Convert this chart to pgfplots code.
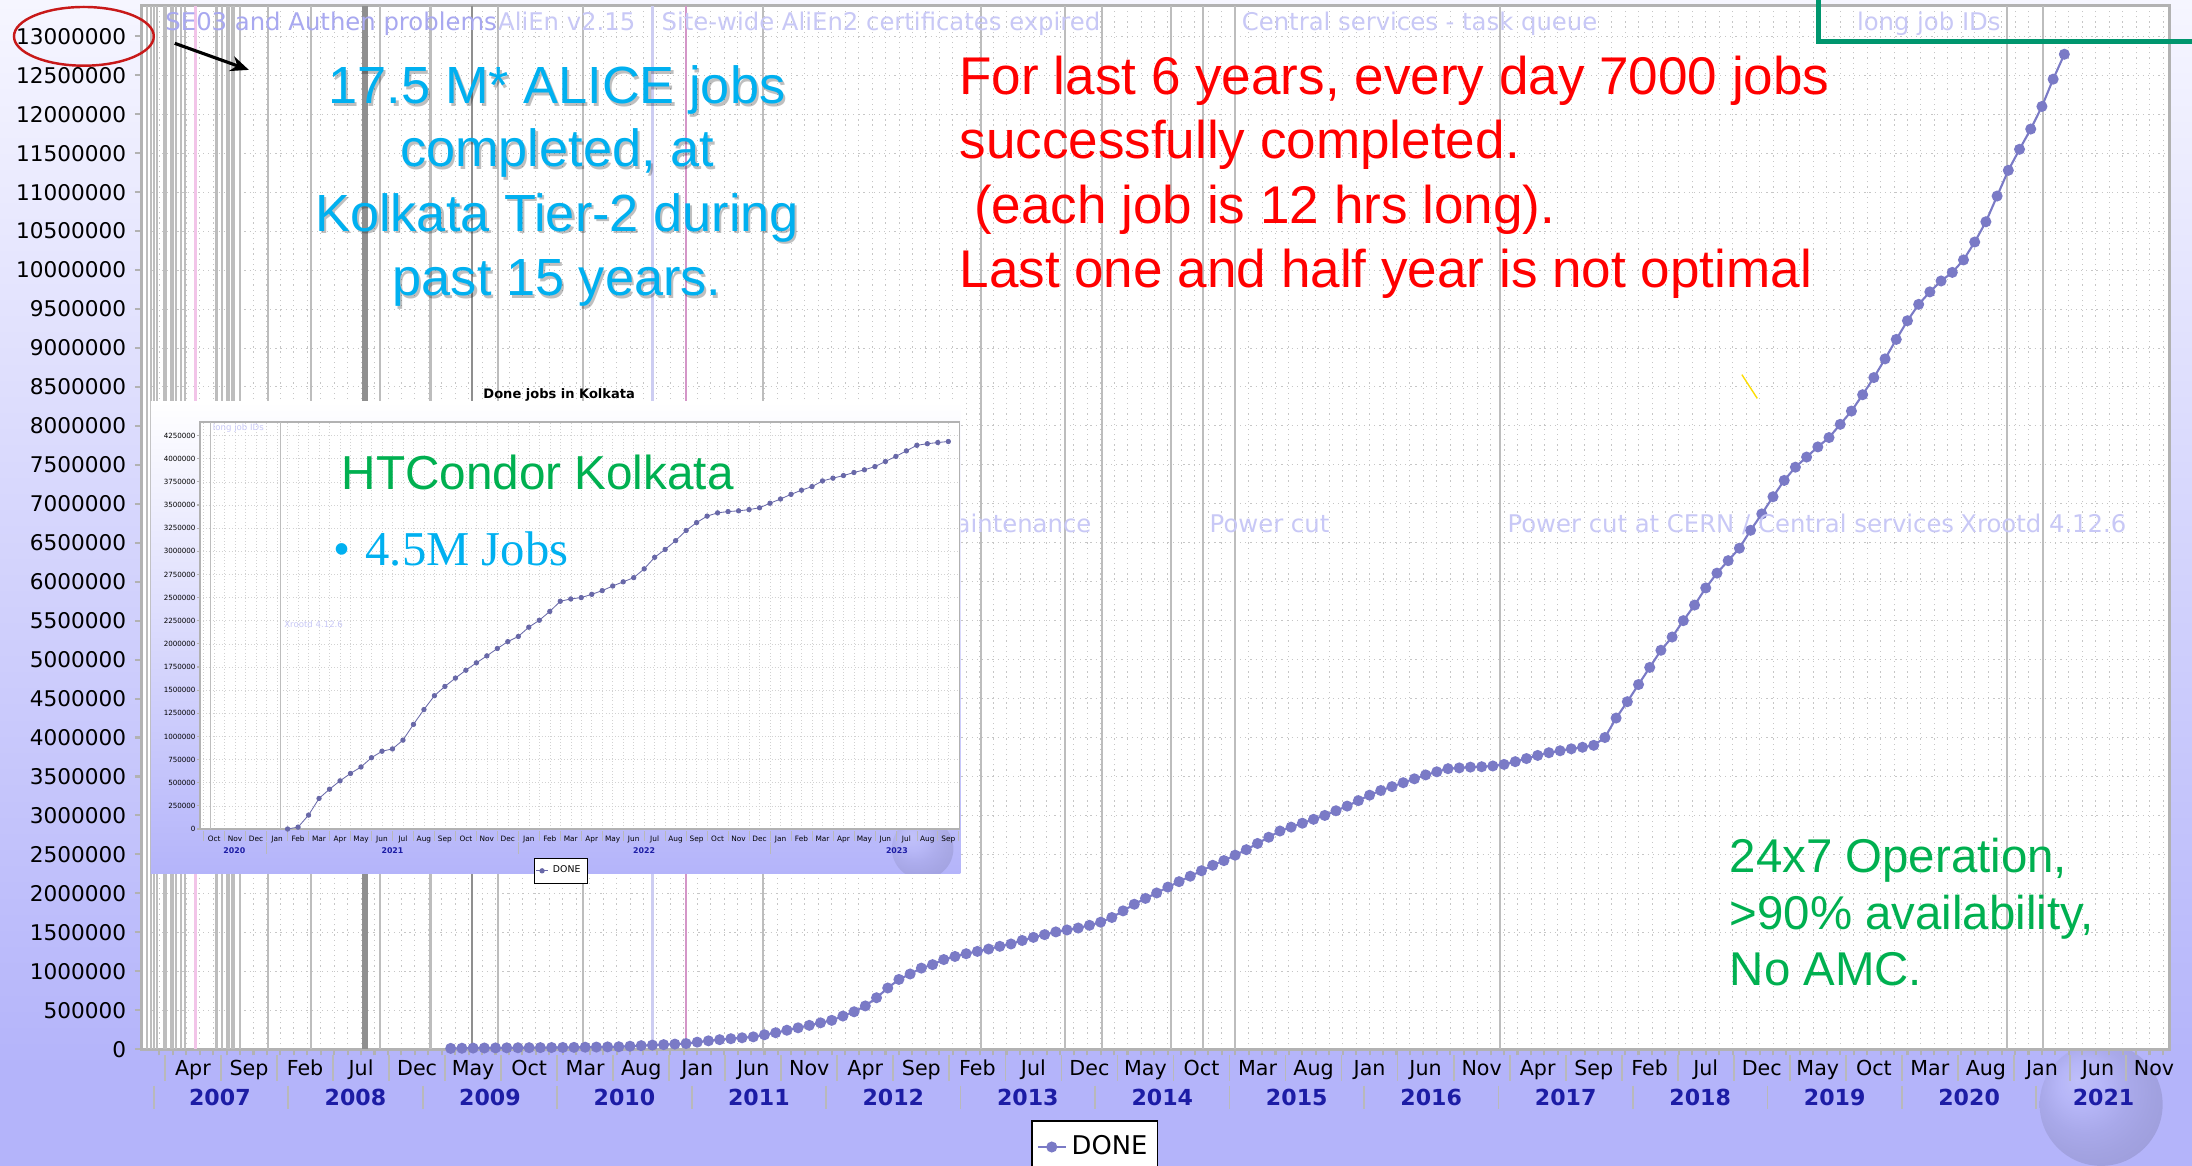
\documentclass[border=0pt]{standalone}
\usepackage{fontspec}
\setmainfont{DejaVu Sans}
\newfontfamily\arial{Liberation Sans}
\newfontfamily\tnr{Liberation Serif}
\usepackage{pgfplots}
\pgfplotsset{compat=1.18}
\usetikzlibrary{arrows.meta}

\definecolor{lav}{RGB}{180,180,250}
\definecolor{lavtop}{RGB}{246,246,255}
\definecolor{series}{RGB}{122,122,198}
\definecolor{yearblue}{RGB}{28,28,165}
\definecolor{faint}{RGB}{200,200,246}
\definecolor{faint2}{RGB}{168,168,240}
\definecolor{cyanT}{RGB}{0,176,240}
\definecolor{greenT}{RGB}{0,176,80}
\definecolor{rectgreen}{RGB}{0,150,110}
\definecolor{ellred}{RGB}{200,25,25}
\definecolor{annot}{gray}{0.74}
\definecolor{annotdark}{gray}{0.56}
\definecolor{annotpink}{RGB}{242,196,232}
\definecolor{annotlav}{RGB}{205,205,242}
\definecolor{annotpurple}{RGB}{212,150,200}

\newcommand{\fs}[1]{\fontsize{#1pt}{#1pt}\selectfont}

\begin{document}
\begin{tikzpicture}[x=0.2mm,y=0.2mm]
\useasboundingbox (0,0) rectangle (1568,834);
\clip (0,0) rectangle (1568,834);
% page background
\shade[top color=lavtop, bottom color=lav] (0,70) rectangle (1568,834);
\fill[lav] (0,0) rectangle (1568,70.5);
\shade[ball color=lav!85!gray, opacity=0.18] (1503,44) circle (44);

% ---------------- main MonALISA chart ----------------
\begin{axis}[
  at={(20.2mm,16.7mm)}, anchor=south west,
  width=290.2mm, height=149.3mm, scale only axis,
  xmin=-1.62, xmax=179.4, ymin=0, ymax=13395000,
  clip=false,
  axis background/.style={fill=white},
  axis line style={draw=gray!60, line width=0.4mm},
  tick align=outside, xtick pos=lower, ytick pos=left,
  tick style={gray!60, line width=0.3mm},
  major tick length=0.9mm, minor tick length=0.9mm,
  major x tick style={draw=none},
  ytick distance=500000,
  scaled y ticks=false,
  /pgf/number format/assume math mode=true,
  yticklabel style={/pgf/number format/fixed, /pgf/number format/1000 sep={},
    font=\fs{8.8}, anchor=east},
  xtick={3,8,...,178},
  xticklabels={Apr,Sep,Feb,Jul,Dec,May,Oct,Mar,Aug,Jan,Jun,Nov,
               Apr,Sep,Feb,Jul,Dec,May,Oct,Mar,Aug,Jan,Jun,Nov,
               Apr,Sep,Feb,Jul,Dec,May,Oct,Mar,Aug,Jan,Jun,Nov},
  xticklabel style={font=\fs{8.4}, anchor=base, yshift=-2.9mm},
  extra x ticks={5.4,17.5,29.5,41.5,53.5,65.5,77.5,89.5,101.5,113.5,125.5,137.5,149.5,161.5,173.5},
  extra x tick labels={2007,2008,2009,2010,2011,2012,2013,2014,2015,2016,2017,2018,2019,2020,2021},
  extra x tick style={grid=none, xticklabel style={font=\bfseries\fs{9}, text=yearblue, yshift=-4.2mm}},
  minor xtick={0,1.2,...,178.8},
  ymajorgrids, xminorgrids,
  major grid style={gray!45, dash pattern=on 0.5pt off 1.6pt, line width=0.35pt},
  minor grid style={gray!45, dash pattern=on 0.5pt off 1.6pt, line width=0.35pt},
  legend style={at={(0.47,-0.068)}, anchor=north, draw=black, fill=white,
    line width=0.6pt, font=\fs{10.5}, inner xsep=2pt, inner ysep=4pt},
  legend image code/.code={\draw[mark repeat=2,mark phase=2,#1]
    plot coordinates {(0mm,0mm) (2mm,0mm) (4mm,0mm)};},
]
% annotation lines of the monitoring plot
\pgfplotsinvokeforeach{-1.1,-0.75,-0.5,-0.25,0.4,0.6,1.0,1.25,1.5,1.9,2.25,5.1,5.6,6.0,6.2,6.5,6.7,7.2,9.7,13.5,19.7,24.2,30.2,37.8,53.9,73.3,80.8,84.1,90.3,93.1,96.0,119.6,164.9,168.1}{
  \draw[annot, line width=0.3mm] (axis cs:#1,0) -- (axis cs:#1,13395000);}
\pgfplotsinvokeforeach{18.2,18.5,27.9}{
  \draw[annotdark, line width=0.35mm] (axis cs:#1,0) -- (axis cs:#1,13395000);}
\draw[annotpink, line width=0.4mm] (axis cs:3.2,0) -- (axis cs:3.2,13395000);
\draw[annotlav, line width=0.4mm] (axis cs:44,0) -- (axis cs:44,13395000);
\draw[annotpurple, line width=0.4mm] (axis cs:47,0) -- (axis cs:47,13395000);
% separators of the date labels
\pgfplotsinvokeforeach{0.5,5.5,...,175.5}{
  \draw[gray!55, line width=0.25mm] (axis cs:#1,-80800) -- (axis cs:#1,-404000);}
\pgfplotsinvokeforeach{-0.5,11.5,...,167.5}{
  \draw[gray!55, line width=0.25mm] (axis cs:#1,-467000) -- (axis cs:#1,-772000);}

\addplot[color=series, line width=0.3mm, mark=*, mark size=1.8pt,
  mark options={fill=series, draw=series}] coordinates {
(26,10000)(27,12000)(28,14000)(29,15000)(30,16000)(31,17000)(32,18000)(33,19000)
(34,20000)(35,21000)(36,22000)(37,23000)(38,25000)(39,27000)(40,29000)(41,31000)
(42,38000)(43,45000)(44,52000)(45,58000)(46,65000)(47,72000)(48,90000)(49,107000)
(50,122000)(51,134000)(52,146000)(53,158000)(54,185000)(55,211000)(56,243000)
(57,274000)(58,306000)(59,338000)(60,370000)(61,425000)(62,480000)(63,555000)
(64,660000)(65,785000)(66,895000)(67,965000)(68,1040000)(69,1085000)(70,1150000)
(71,1190000)(72,1225000)(73,1255000)(74,1285000)(75,1320000)(76,1350000)
(77,1395000)(78,1435000)(79,1470000)(80,1505000)(81,1530000)(82,1555000)
(83,1590000)(84,1630000)(85,1690000)(86,1775000)(87,1860000)(88,1935000)
(89,2005000)(90,2080000)(91,2150000)(92,2220000)(93,2290000)(94,2360000)
(95,2420000)(96,2490000)(97,2560000)(98,2640000)(99,2720000)(100,2800000)
(101,2850000)(102,2900000)(103,2950000)(104,3000000)(105,3060000)(106,3120000)
(107,3190000)(108,3260000)(109,3320000)(110,3370000)(111,3420000)(112,3470000)
(113,3520000)(114,3560000)(115,3600000)(116,3610000)(117,3620000)(118,3625000)
(119,3635000)(120,3655000)(121,3690000)(122,3730000)(123,3770000)(124,3805000)
(125,3830000)(126,3855000)(127,3875000)(128,3900000)(129,4000000)(130,4250000)
(131,4460000)(132,4680000)(133,4900000)(134,5120000)(135,5290000)(136,5500000)
(137,5700000)(138,5920000)(139,6110000)(140,6270000)(141,6430000)(142,6660000)
(143,6870000)(144,7090000)(145,7300000)(146,7470000)(147,7600000)(148,7730000)
(149,7850000)(150,8020000)(151,8190000)(152,8400000)(153,8620000)(154,8860000)
(155,9110000)(156,9350000)(157,9560000)(158,9720000)(159,9860000)(160,9970000)
(161,10130000)(162,10360000)(163,10620000)(164,10950000)(165,11280000)
(166,11550000)(167,11810000)(168,12100000)(169,12450000)(170,12770000)
};
\addlegendentry{DONE}
\end{axis}

% faded event annotations of the monitoring plot
\begin{scope}[every node/.style={inner sep=0pt, font=\fs{9.9}}]
\node[anchor=base west, text=faint2] at (118,812) {SE03 and Authen problems};
\node[anchor=base west, text=faint] at (356,812) {AliEn v2.15};
\node[anchor=base west, text=faint] at (473,812) {Site-wide AliEn2 certificates expired};
\node[anchor=base west, text=faint] at (888,812) {Central services - task queue};
\node[anchor=base west, text=faint] at (1328,812) {long job IDs};
\node[anchor=base east, text=faint] at (781,453) {Maintenance};
\node[anchor=base west, text=faint] at (865,453) {Power cut};
\node[anchor=base west, text=faint] at (1078,453) {Power cut at CERN / Central services};
\node[anchor=base west, text=faint] at (1402,453) {Xrootd 4.12.6};
\end{scope}

% slide annotations
\draw[ellred, line width=0.35mm] (60,808) ellipse [x radius=50, y radius=21];
\draw[-{Stealth[length=2.6mm,width=2.2mm]}, line width=0.45mm] (125,803) -- (178,784);
\draw[rectgreen, line width=0.7mm] (1301,845) -- (1301,804) -- (1580,804);
\draw[yellow!80!orange, line width=0.2mm] (1246,566) -- (1257,549);

\begin{scope}[every node/.style={inner sep=0pt, font=\arial\fs{21.3}}]
\foreach \t/\yy in {{17.5 M* ALICE jobs}/759.6, {completed, at}/714.6,
                    {Kolkata Tier-2 during}/668.6, {past 15 years.}/622.6}{
  \node[anchor=base, text=black, opacity=0.25] at (400,\yy-1.8) {\t};
  \node[anchor=base, text=cyanT] at (398.5,\yy) {\t};
}
\end{scope}
\begin{scope}[every node/.style={inner sep=0pt, anchor=base west, text=red, font=\arial\fs{21.6}}]
\node at (686,766.4) {For last 6 years, every day 7000 jobs};
\node at (686,720.4) {successfully completed.};
\node at (686,674.4) {\ (each job is 12 hrs long).};
\node at (686,628.4) {Last one and half year is not optimal};
\end{scope}
\begin{scope}[every node/.style={inner sep=0pt, anchor=base west, text=greenT, font=\arial\fs{19.3}}]
\node at (1237,210) {24x7 Operation,};
\node at (1237,169) {>90\% availability,};
\node at (1237,129) {No AMC.};
\end{scope}

% ---------------- inset: HTCondor chart ----------------
\shade[top color=white, bottom color=lav] (108,209) rectangle (687,547);
\begin{scope}
\clip (108,209) rectangle (687,547);
\shade[ball color=lav!85!gray, opacity=0.15] (660,227) circle (22);
\end{scope}
\begin{axis}[
  at={(28.6mm,48.2mm)}, anchor=south west,
  width=108.66mm, height=58.2mm, scale only axis,
  xmin=-0.68, xmax=35.53, ymin=0, ymax=4395000,
  clip=false,
  axis background/.style={fill=white},
  axis line style={draw=gray!60, line width=0.2mm},
  tick align=outside, xtick pos=lower, ytick pos=left,
  tick style={gray!60, line width=0.15mm},
  major tick length=0.35mm,
  major x tick style={draw=none},
  ytick distance=250000,
  scaled y ticks=false,
  /pgf/number format/assume math mode=true,
  yticklabel style={/pgf/number format/fixed, /pgf/number format/1000 sep={},
    font=\fs{2.9}, anchor=east, inner sep=0.6pt},
  xtick={0,...,35},
  xticklabels={Oct,Nov,Dec,Jan,Feb,Mar,Apr,May,Jun,Jul,Aug,Sep,
               Oct,Nov,Dec,Jan,Feb,Mar,Apr,May,Jun,Jul,Aug,Sep,
               Oct,Nov,Dec,Jan,Feb,Mar,Apr,May,Jun,Jul,Aug,Sep},
  xticklabel style={font=\fs{3}, anchor=base, yshift=-1.5mm},
  extra x ticks={0.96,8.5,20.5,32.55},
  extra x tick labels={2020,2021,2022,2023},
  extra x tick style={grid=none, xticklabel style={font=\bfseries\fs{3.2}, text=yearblue, yshift=-1.6mm}},
  minor xtick={-0.5,0,...,35.5},
  ymajorgrids, xminorgrids,
  major grid style={gray!35, dash pattern=on 0.3pt off 1pt, line width=0.2pt},
  minor grid style={gray!35, dash pattern=on 0.3pt off 1pt, line width=0.2pt},
  minor tick length=0pt,
  title={Done jobs in Kolkata},
  title style={at={(0.473,1)}, anchor=center, yshift=1.8mm, font=\bfseries\fs{5.3}},
  legend style={at={(0.475,-0.072)}, anchor=north, draw=black, fill=white,
    line width=0.3pt, font=\fs{3.8}, inner xsep=0.8pt, inner ysep=0.8pt},
  legend image code/.code={\draw[mark repeat=2,mark phase=2,#1]
    plot coordinates {(0mm,0mm) (0.8mm,0mm) (1.6mm,0mm)};},
]
\draw[annot, line width=0.15mm] (axis cs:-0.17,0) -- (axis cs:-0.17,4395000);
\draw[annot, line width=0.15mm] (axis cs:3.16,0) -- (axis cs:3.16,4395000);
\pgfplotsinvokeforeach{-0.5,0.5,...,35.5}{
  \draw[gray!55, line width=0.1mm] (axis cs:#1,-22700) -- (axis cs:#1,-128000);}
\pgfplotsinvokeforeach{2.5,14.5,26.5}{
  \draw[gray!55, line width=0.1mm] (axis cs:#1,-136000) -- (axis cs:#1,-272000);}
\addplot[color=series!85!black, line width=0.12mm, mark=*, mark size=0.9pt,
  mark options={fill=series!85!black, draw=series!85!black}] coordinates {
(3.5,0)(4,20000)(4.5,150000)(5,330000)(5.5,430000)(6,520000)(6.5,600000)
(7,670000)(7.5,770000)(8,840000)(8.5,865000)(9,960000)(9.5,1130000)(10,1290000)
(10.5,1440000)(11,1540000)(11.5,1630000)(12,1715000)(12.5,1795000)(13,1870000)
(13.5,1950000)(14,2024000)(14.5,2080000)(15,2180000)(15.5,2255000)(16,2350000)
(16.5,2460000)(17,2485000)(17.5,2500000)(18,2535000)(18.5,2575000)(19,2625000)
(19.5,2670000)(20,2715000)(20.5,2810000)(21,2935000)(21.5,3020000)(22,3115000)
(22.5,3225000)(23,3310000)(23.5,3380000)(24,3415000)(24.5,3429000)(25,3437000)
(25.5,3450000)(26,3470000)(26.5,3519000)(27,3565000)(27.5,3615000)(28,3660000)
(28.5,3699000)(29,3760000)(29.5,3790000)(30,3818000)(30.5,3851000)(31,3880000)
(31.5,3915000)(32,3970000)(32.5,4025000)(33,4085000)(33.5,4145000)(34,4162000)
(34.5,4175000)(35,4186000)
};
\addlegendentry{DONE}
\end{axis}
\node[anchor=base west, inner sep=0pt, text=faint, font=\fs{3.5}] at (152,526) {long job IDs};
\node[anchor=base west, inner sep=0pt, text=faint, font=\fs{3.5}] at (203,385) {Xrootd 4.12.6};

\node[anchor=base west, inner sep=0pt, text=greenT, font=\arial\fs{19.4}] at (244,484) {HTCondor Kolkata};
\node[anchor=base west, inner sep=0pt, text=cyanT, font=\tnr\fs{19.8}] at (238,429.5) {•\kern2.2mm 4.5M Jobs};
\end{tikzpicture}
\end{document}
